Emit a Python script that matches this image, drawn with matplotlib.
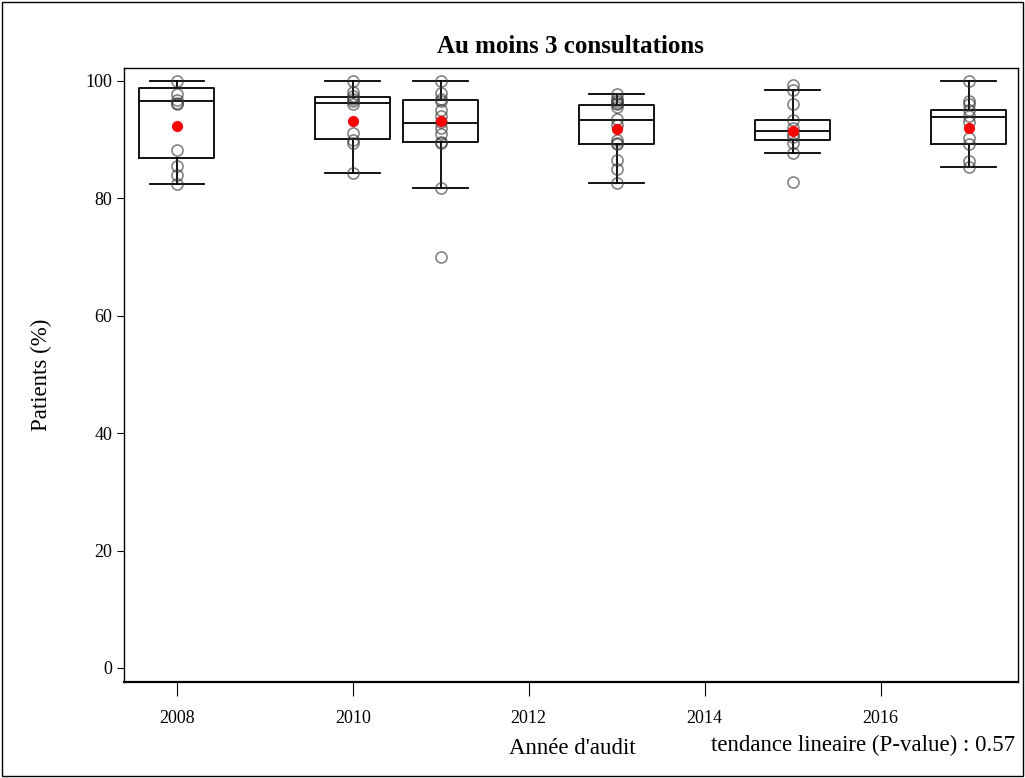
import matplotlib.pyplot as plt
from matplotlib.patches import Rectangle

plt.rcParams['font.family'] = ['Liberation Serif', 'DejaVu Serif']

# données
years = [2008, 2010, 2011, 2013, 2015, 2017]
q1 = [86.8, 90.1, 89.6, 89.2, 89.9, 89.2]
med = [96.6, 96.2, 92.9, 93.3, 91.5, 93.8]
q3 = [98.8, 97.3, 96.8, 95.9, 93.4, 95.1]
whislo = [82.5, 84.3, 81.8, 82.6, 87.7, 85.3]
whishi = [100.0, 100.0, 100.0, 97.7, 98.4, 100.0]
means = [92.3, 93.1, 93.1, 91.8, 91.5, 92.0]

pts_2008 = [100, 97.8, 96.8, 96.3, 96.0, 88.2, 85.5, 83.9, 82.5]
pts_2010 = [100, 98.1, 97.5, 97.0, 96.5, 96.0, 91.1, 90.0, 89.4, 84.3]
pts_2011 = [100, 97.9, 97.0, 96.5, 95.0, 94.0, 93.0, 92.0, 91.0, 89.6, 89.4, 81.8, 70.0]
pts_2013 = [97.7, 97.0, 96.5, 96.2, 96.0, 95.5, 93.5, 92.5, 90.0, 89.5, 89.2, 86.5, 85.0, 82.6]
pts_2015 = [99.3, 98.4, 96.1, 93.4, 92.0, 91.0, 90.5, 89.5, 87.7, 82.7]
pts_2017 = [100, 96.5, 96.0, 95.0, 94.0, 93.0, 90.3, 89.2, 86.4, 85.3]
points = [pts_2008, pts_2010, pts_2011, pts_2013, pts_2015, pts_2017]

fig = plt.figure(figsize=(10.25, 7.78), dpi=100)
ax = fig.add_axes([0.121, 0.1234, 0.872, 0.7892])

stats = []
for i in range(len(years)):
    stats.append({'q1': q1[i], 'med': med[i], 'q3': q3[i],
                  'whislo': whislo[i], 'whishi': whishi[i], 'fliers': []})

ax.bxp(stats, positions=years, widths=0.85, showfliers=False,
       boxprops=dict(color='black', linewidth=1.3),
       medianprops=dict(color='black', linewidth=1.3),
       whiskerprops=dict(color='black', linewidth=1.3),
       capprops=dict(color='black', linewidth=1.3),
       capwidths=0.62, manage_ticks=False)

for yr, vals in zip(years, points):
    ax.plot([yr] * len(vals), vals, 'o', markersize=8, markerfacecolor='none',
            markeredgecolor=(0.2, 0.2, 0.2, 0.6), markeredgewidth=1.2, zorder=3)

ax.plot(years, means, 'o', color='red', markersize=7, linestyle='none', zorder=4)

ax.set_xlim(2007.4, 2017.56)
ax.set_ylim(-2.4, 102.2)
ax.set_xticks([2008, 2010, 2012, 2014, 2016])
ax.set_yticks([0, 20, 40, 60, 80, 100])
ax.tick_params(axis='x', length=10, pad=10, labelsize=13)
ax.tick_params(axis='y', length=5, labelsize=13)
for s in ax.spines.values():
    s.set_linewidth(1.0)
ax.spines['bottom'].set_linewidth(1.6)

ax.set_title('Au moins 3 consultations', fontsize=18, fontweight='bold', pad=11)
ax.set_ylabel('Patients (%)', fontsize=16.5, labelpad=24)
fig.text(0.558, 0.038, "Année d'audit", fontsize=16.5, ha='center', va='center')
fig.text(0.99, 0.042, 'tendance lineaire (P-value) : 0.57', fontsize=16.5,
         ha='right', va='center')

fig.add_artist(Rectangle((0.002, 0.002), 0.996, 0.996, transform=fig.transFigure,
                         fill=False, edgecolor='black', linewidth=1.0))

fig.savefig('out.png', dpi=100)
